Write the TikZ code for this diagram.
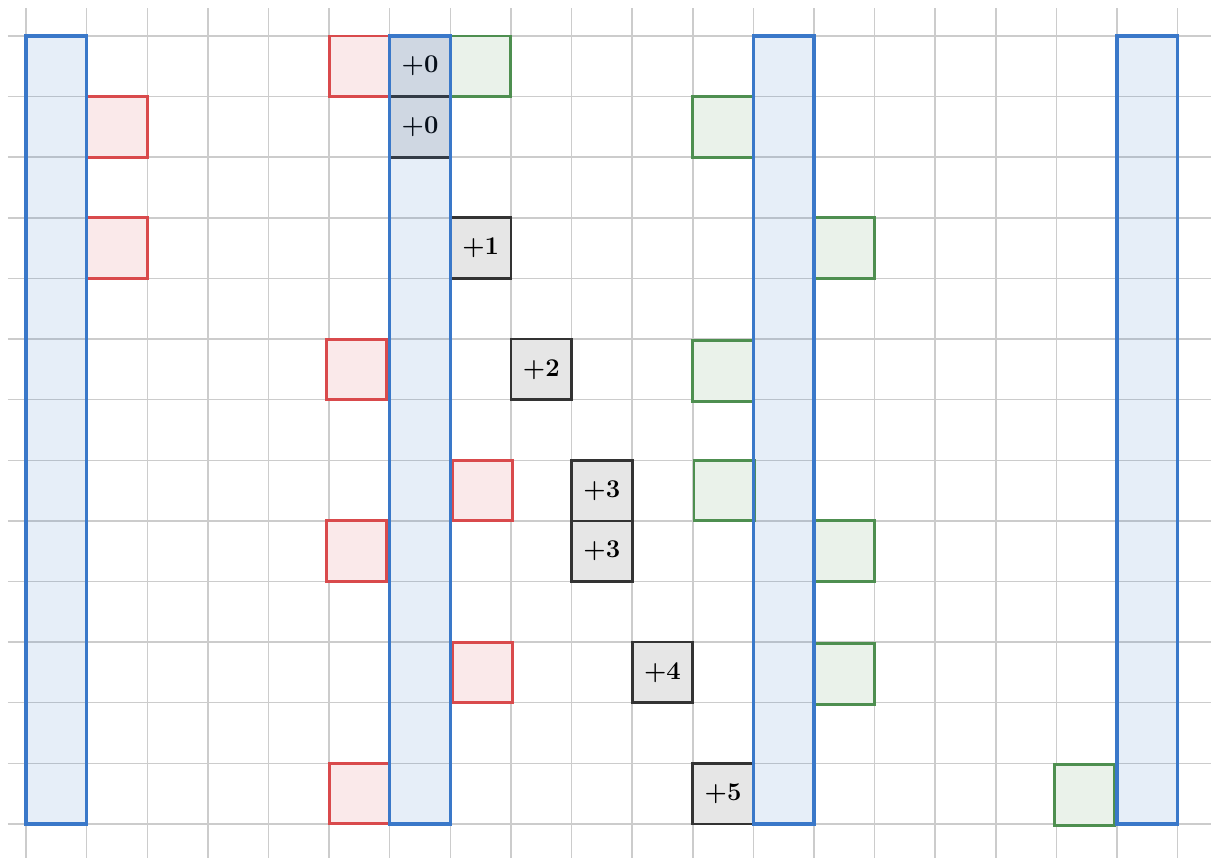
\documentclass[tikz,border=0pt]{standalone}
\usepackage{amsmath, amssymb}
\usepackage{xcolor}
\usepackage{tikz}
\usetikzlibrary{positioning}
\definecolor{barblue}{HTML}{3A78C9}
\definecolor{rowred}{HTML}{D94A4C}
\definecolor{colgreen}{HTML}{4E8F50}
\definecolor{offgray}{HTML}{E6E6E6}

\begin{document}
\begin{tikzpicture}[x=1cm, y=-1cm,
    gridline/.style={gray!40, line width=0.7pt},
    bar/.style={draw=barblue, fill=barblue, fill opacity=0.13, line width=1.5pt},
    redcell/.style={draw=rowred, fill=rowred!12, line width=1.4pt},
    greencell/.style={draw=colgreen, fill=colgreen!12, line width=1.4pt},
    offbox/.style={draw=black!80, fill=offgray, line width=1.3pt, minimum size=1cm,
        inner sep=0pt, outer sep=0pt, font=\large\boldmath}]
    \useasboundingbox (-0.43,-0.594) rectangle (19.55,13.55);

    % ── grid ──────────────────────────────────────────────────────────
    \foreach \i in {0,...,19}{
        \draw[gridline] (\i,-0.46) -- (\i,13.6);
    }
    \foreach \j in {0,...,13}{
        \draw[gridline] (-0.3,\j) -- (19.6,\j);
    }

    % ── red and green cells ───────────────────────────────────────────
    \foreach \c/\r in {5/0, 1/1, 1/3, 4.95/5, 7.03/7, 4.95/8, 7.03/10, 5/12}{
        \filldraw[redcell] (\c,\r) rectangle ++(1,1);
    }
    \foreach \c/\r in {7/0, 11/1, 13/3, 11/5.03, 11.02/7, 13/8, 13/10.03, 16.96/12.02}{
        \filldraw[greencell] (\c,\r) rectangle ++(1,1);
    }

    % ── offsets ───────────────────────────────────────────────────────
    \node[offbox] (off0a) at (6.5,0.5) {$+0$};
    \node[offbox, below=0pt of off0a] (off0b) {$+0$};
    \node[offbox] (off1) at (7.5,3.5) {$+1$};
    \node[offbox] (off2) at (8.5,5.5) {$+2$};
    \node[offbox] (off3a) at (9.5,7.5) {$+3$};
    \node[offbox, below=0pt of off3a] (off3b) {$+3$};
    \node[offbox] (off4) at (10.5,10.5) {$+4$};
    \node[offbox] (off5) at (11.5,12.5) {$+5$};

    % ── blue columns ──────────────────────────────────────────────────
    \foreach \c in {0, 6, 12, 18}{
        \filldraw[bar] (\c,0) rectangle ++(1,13);
    }
\end{tikzpicture}
\end{document}
